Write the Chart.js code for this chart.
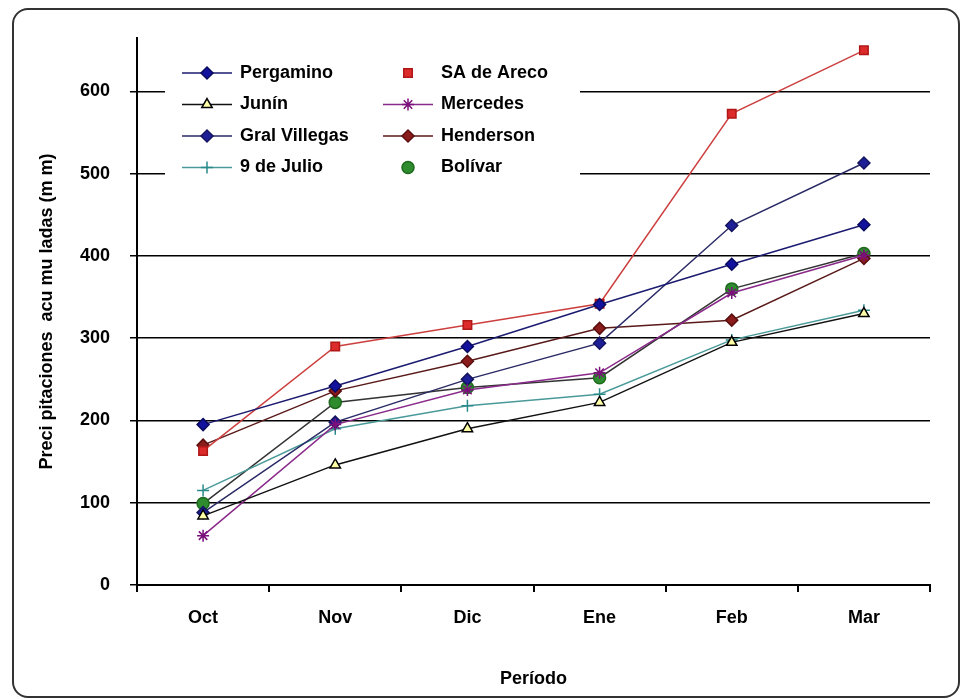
<!DOCTYPE html>
<html>
<head>
<meta charset="utf-8">
<script src="https://cdn.jsdelivr.net/npm/chart.js@4/dist/chart.umd.min.js"></script>
<style>
  body { margin: 0; background: #fff; }
  #wrap { position: relative; width: 967px; height: 698px; overflow: hidden; }
  #frame { position: absolute; left: 12px; top: 8px; width: 944px; height: 686px;
           border: 2px solid #333; border-radius: 16px; }
  canvas { position: absolute; left: 0; top: 0; }
</style>
</head>
<body>
<div id="wrap">
  <div id="frame"></div>
  <canvas id="chart" width="967" height="698"></canvas>
</div>
<script>
// categories and tick labels
const periods = ['Oct', 'Nov', 'Dic', 'Ene', 'Feb', 'Mar'];
const yTicks = [0, 100, 200, 300, 400, 500, 600];

// accumulated rainfall (mm)
const pergamino    = [195, 242, 290, 341, 390, 438];
const saDeAreco    = [163, 290, 316, 342, 573, 650];
const junin        = [84, 146, 190, 222, 295, 330];
const mercedes     = [60, 195, 237, 258, 355, 401];
const gralVillegas = [88, 198, 250, 294, 437, 513];
const henderson    = [170, 236, 272, 312, 322, 397];
const nueveDeJulio = [115, 190, 218, 232, 298, 334];
const bolivar      = [99, 222, 240, 252, 360, 403];

const FONT = "'Liberation Sans', Arial, sans-serif";

const series = (label, data, line, fill, stroke, style, legendLine = true) => ({
  label,
  data,
  borderColor: line,
  borderWidth: 1.5,
  pointStyle: style,
  pointRadius: 6,
  pointBackgroundColor: fill,
  pointBorderColor: stroke,
  pointBorderWidth: 1.5,
  tension: 0,
  fill: false,
  legendLine,
});

// legend sits inside the plot, two columns, white behind it
const legendBox = {
  id: 'legendBox',
  beforeDatasetsDraw(chart) {
    const { ctx, chartArea } = chart;
    const x0 = chartArea.left + 28;
    const y0 = chartArea.top + 17;
    ctx.save();
    ctx.fillStyle = '#fff';
    ctx.fillRect(x0, y0, 415, 130);
    chart.data.datasets.forEach((ds, i) => {
      const col = i % 2;
      const row = Math.floor(i / 2);
      const lx = x0 + 17 + col * 201;
      const ly = y0 + 18 + row * 31.5;
      if (ds.legendLine) {
        ctx.strokeStyle = ds.borderColor;
        ctx.lineWidth = 1.5;
        ctx.beginPath();
        ctx.moveTo(lx, ly);
        ctx.lineTo(lx + 50, ly);
        ctx.stroke();
      }
      ctx.fillStyle = ds.pointBackgroundColor;
      ctx.strokeStyle = ds.pointBorderColor;
      ctx.lineWidth = 1.5;
      if (Chart.helpers && Chart.helpers.drawPoint) {
        Chart.helpers.drawPoint(ctx, { pointStyle: ds.pointStyle, radius: 6, rotation: 0, borderWidth: 1.5 }, lx + 25, ly);
      } else {
        ctx.beginPath();
        ctx.arc(lx + 25, ly, 5, 0, Math.PI * 2);
        ctx.fill();
        ctx.stroke();
      }
      ctx.fillStyle = '#000';
      ctx.font = 'bold 18px ' + FONT;
      ctx.textBaseline = 'middle';
      ctx.textAlign = 'left';
      ctx.fillText(ds.label, lx + 58, ly);
    });
    ctx.restore();
  },
};

new Chart(document.getElementById('chart'), {
  type: 'line',
  data: {
    labels: periods,
    datasets: [
      series('Pergamino', pergamino, '#1b1b70', '#12129e', '#0a0a60', 'rectRot'),
      series('SA de Areco', saDeAreco, '#cc4040', '#dd2a2a', '#b01818', 'rect', false),
      series('Junín', junin, '#111', '#ffffa8', '#000', 'triangle'),
      series('Mercedes', mercedes, '#8a2a8a', '#8b1a8b', '#7a107a', 'star'),
      series('Gral Villegas', gralVillegas, '#2a2a66', '#1e1e96', '#141460', 'rectRot'),
      series('Henderson', henderson, '#5a1a1a', '#8a1c1c', '#5a0e0e', 'rectRot'),
      series('9 de Julio', nueveDeJulio, '#4a9a9a', '#3a9a9a', '#2a8a8a', 'cross'),
      series('Bolívar', bolivar, '#333', '#2e8b2e', '#1d6a1d', 'circle', false),
    ],
  },
  options: {
    responsive: false,
    animation: false,
    layout: { padding: { left: 0, top: 38, right: 37, bottom: 0 } },
    plugins: {
      legend: { display: false },
      tooltip: { enabled: false },
    },
    scales: {
      x: {
        offset: true,
        grid: { display: true, offset: true, drawOnChartArea: false, drawTicks: true, tickLength: 7, color: '#000', lineWidth: 2 },
        border: { color: '#000', width: 2 },
        ticks: { color: '#000', padding: 15, font: { family: FONT, size: 18, weight: 'bold' } },
        title: { display: true, text: 'Período', color: '#000', padding: { top: 0, bottom: 8 }, font: { family: FONT, size: 18, weight: 'bold' } },
        afterFit: (s) => { s.height = 113; },
      },
      y: {
        min: 0,
        max: 665,
        afterBuildTicks: (s) => { s.ticks = yTicks.map((v) => ({ value: v })); },
        grid: { color: '#000', lineWidth: 1.5, tickLength: 7 },
        border: { color: '#000', width: 2 },
        ticks: { color: '#000', padding: 20, font: { family: FONT, size: 18, weight: 'bold' } },
        title: { display: true, text: 'Preci pitaciones  acu mu ladas (m m)', color: '#000', padding: { top: 36, bottom: 0 }, font: { family: FONT, size: 18, weight: 'bold' } },
        afterFit: (s) => { s.width = 137; },
      },
    },
  },
  plugins: [legendBox],
});
</script>
</body>
</html>
